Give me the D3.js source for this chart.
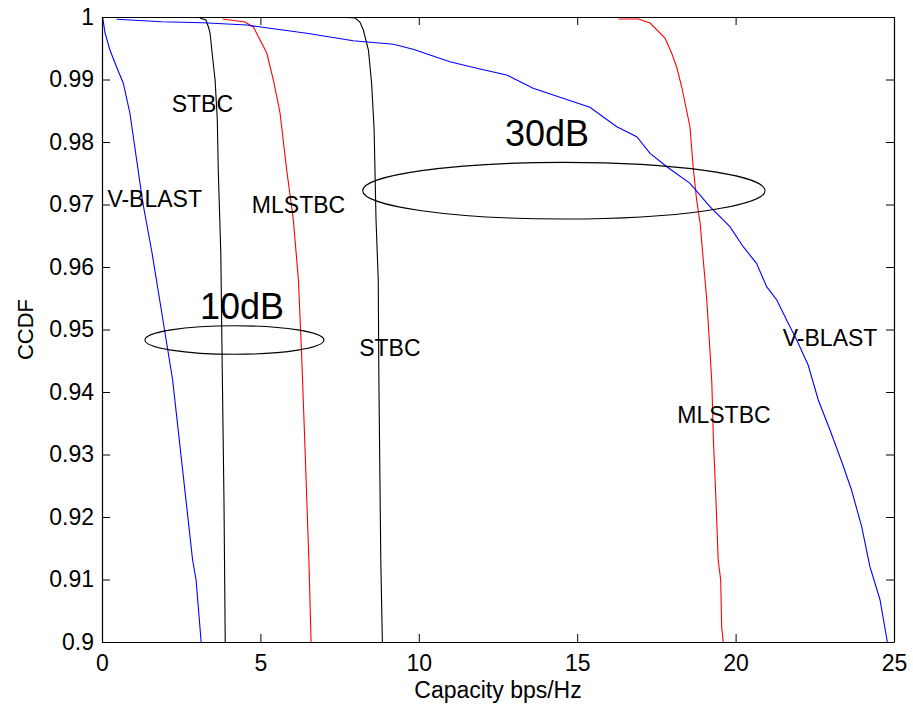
<!DOCTYPE html>
<html>
<head>
<meta charset="utf-8">
<script src="https://cdn.jsdelivr.net/npm/d3@7"></script>
<style>
  body { margin: 0; background: #fff; }
  svg { font-family: "Liberation Sans", Arial, sans-serif; }
</style>
</head>
<body>
<div id="container"></div>
<script>
// Values (capacity in bps/Hz, CCDF)
const vblast10Cap  = [0.02, 0.095, 0.25, 0.46, 0.67, 0.88, 1.29, 1.58, 1.99, 2.23, 2.86, 2.97, 3.13];
const vblast10Ccdf = [1.0, 0.99744, 0.99472, 0.992, 0.98944, 0.98464, 0.97024, 0.96224, 0.94944, 0.94192, 0.91312, 0.90992, 0.9];

const stbc10Cap  = [3.09, 3.28, 3.36, 3.41, 3.50, 3.57, 3.64, 3.67, 3.75, 3.80, 3.85, 3.89];
const stbc10Ccdf = [0.99984, 0.99952, 0.9984, 0.99744, 0.99312, 0.98992, 0.98352, 0.97552, 0.96224, 0.94192, 0.92272, 0.9];

const mlstbc10Cap  = [3.81, 4.51, 4.78, 4.99, 5.20, 5.41, 5.62, 5.83, 6.04, 6.20, 6.30, 6.41, 6.53, 6.60];
const mlstbc10Ccdf = [0.99968, 0.9992, 0.9984, 0.99632, 0.99424, 0.98992, 0.98464, 0.97552, 0.96752, 0.95792, 0.94624, 0.93072, 0.91312, 0.9];

const stbc30Cap  = [7.51, 7.99, 8.14, 8.25, 8.41, 8.51, 8.59, 8.65, 8.72, 8.74, 8.80, 8.85];
const stbc30Ccdf = [1.0, 0.99984, 0.9992, 0.99792, 0.99472, 0.98944, 0.98192, 0.96752, 0.95792, 0.94192, 0.91312, 0.9];

const mlstbc30Cap  = [16.30, 16.93, 17.30, 17.77, 17.98, 18.14, 18.30, 18.47, 18.56, 18.66, 18.77, 18.88, 18.98,
                      19.09, 19.19, 19.25, 19.30, 19.38, 19.45, 19.53, 19.56, 19.61];
const mlstbc30Ccdf = [0.99968, 0.99968, 0.99904, 0.99664, 0.99424, 0.992, 0.9888, 0.98464, 0.9824, 0.976, 0.97072, 0.96704, 0.96112,
                      0.95472, 0.94672, 0.94144, 0.93232, 0.92272, 0.91312, 0.90992, 0.9024, 0.9];

const vblast30Cap  = [0.46, 1.88, 3.19, 4.57, 5.30, 6.46, 7.93, 9.20, 9.82, 10.98, 11.83, 12.77, 13.61, 14.55, 15.40,
                      16.25, 16.88, 17.30, 17.83, 18.56, 19.19, 19.82, 20.24, 20.66, 20.98, 21.30, 21.61, 21.93,
                      22.29, 22.61, 22.98, 23.35, 23.66, 23.98, 24.24, 24.56, 24.79];
const vblast30Ccdf = [0.99963, 0.99925, 0.99909, 0.99872, 0.99819, 0.99739, 0.99621, 0.99563, 0.99483, 0.99285, 0.99179,
                      0.99072, 0.98859, 0.98699, 0.98555, 0.98245, 0.98085, 0.97819, 0.97605, 0.97339, 0.96965, 0.96645,
                      0.96325, 0.96059, 0.95685, 0.95472, 0.95152, 0.94832, 0.94432, 0.93872, 0.93392, 0.92885, 0.92432,
                      0.91845, 0.91205, 0.90672, 0.9];

// Tick values and labels
const xTicks = [0, 5, 10, 15, 20, 25];
const yTicks = [0.9, 0.91, 0.92, 0.93, 0.94, 0.95, 0.96, 0.97, 0.98, 0.99, 1];
const yTickLabels = ["0.9", "0.91", "0.92", "0.93", "0.94", "0.95", "0.96", "0.97", "0.98", "0.99", "1"];

// Annotation texts, anchored in data space
const noteTexts = ["STBC", "V-BLAST", "MLSTBC", "10dB", "STBC", "30dB", "V-BLAST", "MLSTBC"];
const noteCap   = [2.20, 0.17, 4.73, 3.09, 8.12, 12.72, 21.49, 18.16];
const noteCcdf  = [0.98485, 0.96968, 0.96859, 0.95163, 0.94576, 0.97941, 0.94741, 0.93499];
const noteBig   = [false, false, false, true, false, true, false, false];

// Ellipses grouping the curves at each SNR (centre and half widths in data units)
const ringCap  = [4.18, 14.58];
const ringCcdf = [0.94832, 0.97221];
const ringRx   = [2.825, 6.35];
const ringRy   = [0.00229, 0.00453];

const series = [
  { cap: vblast10Cap, ccdf: vblast10Ccdf, color: "#0000ff" },
  { cap: stbc10Cap, ccdf: stbc10Ccdf, color: "#000000" },
  { cap: mlstbc10Cap, ccdf: mlstbc10Ccdf, color: "#ff0000" },
  { cap: stbc30Cap, ccdf: stbc30Ccdf, color: "#000000" },
  { cap: mlstbc30Cap, ccdf: mlstbc30Ccdf, color: "#ff0000" },
  { cap: vblast30Cap, ccdf: vblast30Ccdf, color: "#0000ff" }
];

// Chart dimensions
const width = 913, height = 708;
const margin = { top: 17, right: 19, bottom: 66, left: 102 };
const innerW = width - margin.left - margin.right;
const innerH = height - margin.top - margin.bottom;

const x = d3.scaleLinear().domain([0, 25]).range([0, innerW]);
const y = d3.scaleLinear().domain([0.9, 1]).range([innerH, 0]);

const svg = d3.create("svg").attr("width", width).attr("height", height);
const g = svg.append("g").attr("transform", `translate(${margin.left},${margin.top})`);

g.append("rect").attr("width", innerW).attr("height", innerH).attr("fill", "#fff");

g.append("clipPath").attr("id", "plot-clip")
  .append("rect").attr("width", innerW).attr("height", innerH);

// Curves
const line = d3.line().x(d => x(d[0])).y(d => y(d[1]));
g.append("g").attr("clip-path", "url(#plot-clip)")
  .selectAll("path")
  .data(series)
  .enter().append("path")
  .attr("d", s => line(s.cap.map((c, i) => [c, s.ccdf[i]])))
  .attr("fill", "none")
  .attr("stroke", s => s.color)
  .attr("stroke-width", 1.1);

// Ellipses
g.selectAll(".ring")
  .data(ringCap)
  .enter().append("ellipse")
  .attr("class", "ring")
  .attr("cx", d => x(d))
  .attr("cy", (d, i) => y(ringCcdf[i]))
  .attr("rx", (d, i) => x(ringRx[i]) - x(0))
  .attr("ry", (d, i) => y(1 - ringRy[i]) - y(1))
  .attr("fill", "none")
  .attr("stroke", "#000")
  .attr("stroke-width", 1.1);

// Annotations
g.selectAll(".note")
  .data(noteTexts)
  .enter().append("text")
  .attr("class", "note")
  .attr("x", (d, i) => x(noteCap[i]))
  .attr("y", (d, i) => y(noteCcdf[i]))
  .attr("font-size", (d, i) => noteBig[i] ? "36px" : "23px")
  .attr("fill", "#000")
  .text(d => d);

// Axes: ticks point inward on all four sides
const styleAxis = sel => {
  sel.select(".domain").attr("stroke", "#000").attr("stroke-width", 1.2);
  sel.selectAll(".tick line").attr("stroke", "#000");
  sel.selectAll(".tick text").attr("font-size", "23px").attr("fill", "#000")
    .attr("font-family", "Liberation Sans, Arial, sans-serif");
};

g.append("g").attr("transform", `translate(0,${innerH})`)
  .call(d3.axisBottom(x).tickValues(xTicks).tickSize(-8).tickSizeOuter(0).tickPadding(13))
  .call(styleAxis);
g.append("g")
  .call(d3.axisTop(x).tickValues(xTicks).tickSize(-8).tickSizeOuter(0).tickFormat(""))
  .call(styleAxis);
g.append("g")
  .call(d3.axisLeft(y).tickValues(yTicks).tickSize(-8).tickSizeOuter(0).tickPadding(8)
    .tickFormat((d, i) => yTickLabels[i]))
  .call(styleAxis);
g.append("g").attr("transform", `translate(${innerW},0)`)
  .call(d3.axisRight(y).tickValues(yTicks).tickSize(-8).tickSizeOuter(0).tickFormat(""))
  .call(styleAxis);

// Axis titles
svg.append("text")
  .attr("x", margin.left + innerW / 2)
  .attr("y", 698)
  .attr("text-anchor", "middle")
  .attr("font-size", "23px")
  .text("Capacity bps/Hz");

svg.append("text")
  .attr("transform", `translate(33,${margin.top + innerH / 2}) rotate(-90)`)
  .attr("text-anchor", "middle")
  .attr("font-size", "22px")
  .text("CCDF");

document.getElementById("container").append(svg.node());
</script>
</body>
</html>
